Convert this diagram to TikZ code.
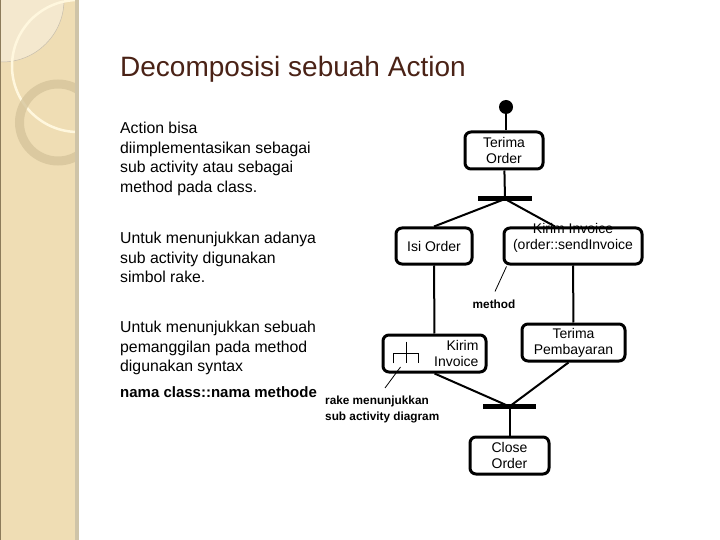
\documentclass[tikz,border=0pt]{standalone}
\usepackage{fontspec}
\setmainfont{Liberation Sans}
\usetikzlibrary{positioning,calc}
\definecolor{stripbg}{HTML}{EFDDB4}
\definecolor{stripedge}{HTML}{CFC4A8}
\definecolor{stripline}{HTML}{8C7B5A}
\definecolor{ringtan}{HTML}{D6C59C}
\definecolor{arccream}{HTML}{FFF7DE}
\definecolor{titlebrown}{HTML}{4A2216}

\begin{document}
\begin{tikzpicture}[
    x=1pt, y=-1pt,
    every node/.style={font=\fontsize{14}{16}\selectfont},
    txt/.style={align=left, inner sep=0pt, anchor=north west, font=\fontsize{15.8}{19.5}\selectfont},
    act/.style={draw, line width=3pt, rounded corners=6pt, fill=white, align=center, inner sep=2pt},
    bar/.style={fill=black, minimum width=54pt, minimum height=5pt, inner sep=0pt},
    conn/.style={line width=2pt},
    ptr/.style={line width=.8pt},
    lbl/.style={font=\bfseries\fontsize{11.8}{16}\selectfont, inner sep=0pt, align=left}
  ]
    \fill[white] (0,0) rectangle (720,540);
    \useasboundingbox (0,0) rectangle (720,540);

    % side strip
    \fill[stripbg] (0,0) rectangle (78,540);
    \begin{scope}
      \clip (0,0) rectangle (76,540);
      \fill[white, opacity=.35] (2,0) circle (62);
      \draw[stripline!50, line width=.5pt] (2,0) circle (62);
      \draw[arccream, line width=2.5pt] (78,66) circle (66);
      \draw[ringtan, opacity=.8, line width=9pt] (58,122.5) circle (38.5);
    \end{scope}
    \fill[stripedge] (75,0) rectangle (79,540);
    \draw[stripline, line width=1pt] (0.5,0) -- (0.5,540);

    % text column
    \node[txt, anchor=base west, font=\fontsize{28}{32}\selectfont, text=titlebrown] (title) at (120,77) {Decomposisi sebuah Action};
    \node[txt] (para1) at (120,122) {Action bisa\\diimplementasikan sebagai\\sub activity atau sebagai\\method pada class.};
    \node[txt] (para2) at (120,232) {Untuk menunjukkan adanya\\sub activity digunakan\\simbol rake.};
    \node[txt] (para3) at (120,321) {Untuk menunjukkan sebuah\\pemanggilan pada method\\digunakan syntax};
    \node[txt, font=\bfseries\fontsize{15}{18}\selectfont] (syntax) at (120,386) {nama class::nama methode};

    % activity diagram
    \node[circle, fill=black, minimum size=14pt, inner sep=0pt] (start) at (506,107) {};
    \node[act, minimum width=78pt, minimum height=37pt] (terima) at (504,150.5) {Terima\\Order};
    \node[bar] (fork) at (505,199) {};
    \node[act, minimum width=76pt, minimum height=36pt] (isi) at (434,246) {Isi Order};
    \node[act, minimum width=138pt, minimum height=36pt,
      label={[anchor=center, inner sep=0pt, yshift=-2pt]north:Kirim Invoice}] (kirimM) at (573,246) {(order::sendInvoice};
    \node[act, minimum width=103pt, minimum height=37pt, text width=88pt, align=right] (kirimR) at (434.5,353.5) {Kirim\\Invoice};
    \node[act, minimum width=103pt, minimum height=37pt] (bayar) at (573.5,342.5) {Terima\\Pembayaran};
    \node[bar, minimum width=53pt] (join) at (509.5,406.5) {};
    \node[act, minimum width=79pt, minimum height=37pt] (close) at (509.5,455.5) {Close\\Order};

    \draw[conn] (start) -- (start |- terima.north);
    \draw[conn] (terima) -- (fork.center);
    \draw[conn] (fork.center) -- (isi.north);
    \draw[conn] (fork.center) -- ($(kirimM.north)+(-18,0)$);
    \foreach \a/\b in {isi/kirimR, kirimM/bayar}
      \draw[conn] (\a) -- (\b);
    \draw[conn] (kirimR.south) -- (join.center);
    \draw[conn] ($(bayar.south)+(-5,0)$) -- (join.center);
    \draw[conn] (join.center) -- (close);

    % rake symbol
    \begin{scope}[shift={(kirimR.west)}, line width=.8pt]
      \draw (24.7,-11.8) -- (24.7,9.8);
      \draw (12,9.8) -- (12,0) -- (37,0) -- (37,9.8);
    \end{scope}

    % notes
    \node[lbl] (method) at (494,304) {method};
    \draw[ptr] ($(kirimM.south west)+(4,1)$) -- ($(method.north)+(1,-8)$);
    \node[lbl, anchor=north west] (rakelbl) at (325,395.5) {rake menunjukkan\\sub activity diagram};
    \draw[ptr] ($(kirimR.west)+(19,13.5)$) -- ($(rakelbl.north west)+(60,-7.5)$);
  \end{tikzpicture}
\end{document}
